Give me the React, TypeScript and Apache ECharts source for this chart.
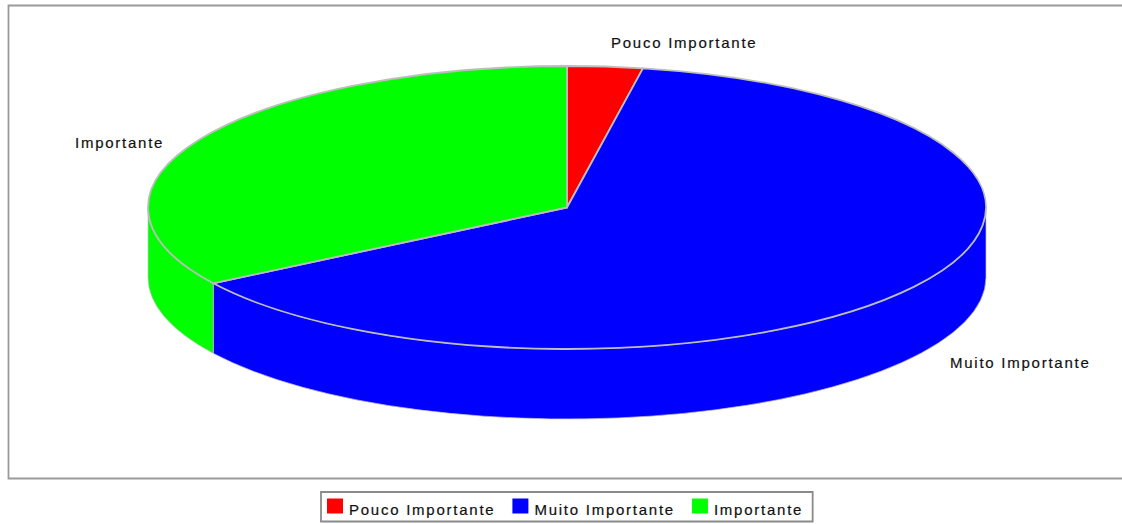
import React, { useEffect, useRef } from "react";
import * as echarts from "echarts";

// Data (percent shares)
const categories = ["Pouco Importante", "Muito Importante", "Importante"];
const values = [2.9, 63.1, 34];
const colors = ["#ff0000", "#0000ff", "#00ff00"];

// Layout of the 3D pie
const CX = 567, CY = 207.5, RX = 419, RY = 141.5, DEPTH = 70;
const labelAnchors: [number, number][] = [[611, 42.5], [950, 362.5], [75, 142.5]];
const FONT = '15px "Liberation Sans"';
const total = values.reduce((a, b) => a + b, 0);

const pt = (t: number, dy = 0): [number, number] => [
  CX + RX * Math.sin(t),
  CY - RY * Math.cos(t) + dy,
];
const fmt = (p: [number, number]) => `${p[0].toFixed(2)} ${p[1].toFixed(2)}`;

function topPath(a: number, b: number) {
  const large = b - a > Math.PI ? 1 : 0;
  return `M ${CX} ${CY} L ${fmt(pt(a))} A ${RX} ${RY} 0 ${large} 1 ${fmt(pt(b))} Z`;
}

function sidePath(a0: number, b0: number) {
  const a = Math.max(a0, Math.PI / 2);
  const b = Math.min(b0, (3 * Math.PI) / 2);
  if (b <= a) return null;
  return `M ${fmt(pt(a))} A ${RX} ${RY} 0 0 1 ${fmt(pt(b))} L ${fmt(pt(b, DEPTH))} A ${RX} ${RY} 0 0 0 ${fmt(pt(a, DEPTH))} Z`;
}

export default function App() {
  const ref = useRef<HTMLDivElement>(null);
  useEffect(() => {
    const chart = echarts.init(ref.current!, null, { renderer: "svg" });
    const series = categories.map((name, i) => {
      const before = values.slice(0, i).reduce((a, b) => a + b, 0);
      return {
        type: "custom",
        name,
        coordinateSystem: "none",
        silent: true,
        itemStyle: { color: colors[i] },
        data: [[values[i]]],
        renderItem: (_p: any, api: any) => {
          const a = (before / total) * 2 * Math.PI;
          const b = ((before + api.value(0)) / total) * 2 * Math.PI;
          const children: any[] = [];
          const side = sidePath(a, b);
          if (side) {
            children.push({
              type: "path",
              shape: { pathData: side },
              style: { fill: colors[i], stroke: "#c4c4c4", lineWidth: 0.7 },
            });
          }
          children.push({
            type: "path",
            shape: { pathData: topPath(a, b) },
            style: { fill: colors[i], stroke: "#bdbdbd", lineWidth: 1.8 },
          });
          const lp = labelAnchors[i];
          children.push({
            type: "text",
            style: {
              text: name,
              x: lp[0],
              y: lp[1],
              font: FONT,
              fill: "#111111",
              align: "left",
              verticalAlign: "middle",
            },
          });
          return { type: "group", children };
        },
      };
    });
    chart.setOption({
      animation: false,
      backgroundColor: "#ffffff",
      graphic: [
        {
          type: "rect",
          silent: true,
          z: -1,
          shape: { x: 8.5, y: 5.5, width: 1140, height: 473 },
          style: { fill: "none", stroke: "#9a9a9a", lineWidth: 1.8 },
        },
      ],
      legend: {
        left: 321,
        top: 492,
        orient: "horizontal",
        data: categories,
        icon: "rect",
        itemWidth: 16,
        itemHeight: 15,
        itemGap: 45,
        padding: [6.5, 27, 4.5, 6],
        borderColor: "#8a8a8a",
        borderWidth: 1.8,
        backgroundColor: "#ffffff",
        selectedMode: false,
        formatter: (n: string) => `{a|${n}}`,
        textStyle: {
          fontFamily: "Liberation Sans",
          fontSize: 15,
          color: "#111111",
          rich: {
            a: {
              fontFamily: "Liberation Sans",
              fontSize: 15,
              color: "#111111",
              padding: [7, 0, 0, 1],
            },
          },
        },
      },
      series,
    });
    return () => chart.dispose();
  }, []);
  return (
    <div style={{ position: "absolute", left: 0, top: 0, width: 1122, height: 524 }}>
      <style>{`#pie3d text { letter-spacing: 1.75px; stroke: #111; stroke-width: 0.2px; }`}</style>
      <div id="pie3d" ref={ref} style={{ width: 1122, height: 524 }} />
    </div>
  );
}
